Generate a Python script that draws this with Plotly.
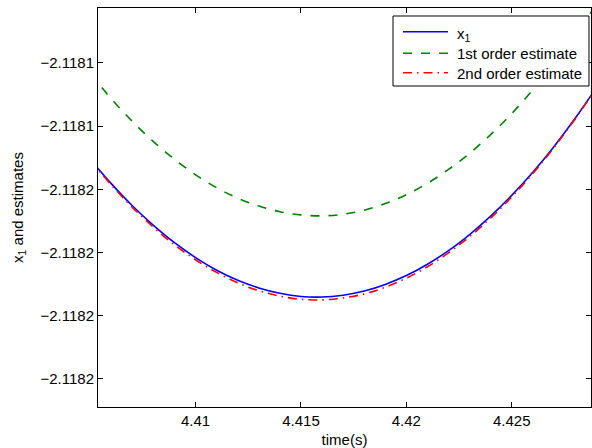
import plotly.graph_objects as go

# time samples (s)
time_s = [4.405, 4.406, 4.407, 4.408, 4.409, 4.410, 4.411, 4.412, 4.413, 4.414,
          4.415, 4.416, 4.417, 4.418, 4.419, 4.420, 4.421, 4.422, 4.423, 4.424,
          4.425, 4.426, 4.427, 4.428, 4.429]

x1 = [-2.1181505, -2.1181582, -2.1181652, -2.1181714, -2.1181769, -2.1181816,
      -2.1181856, -2.1181888, -2.1181912, -2.1181929, -2.1181939, -2.1181941,
      -2.1181935, -2.1181922, -2.1181901, -2.1181873, -2.1181837, -2.1181794,
      -2.1181743, -2.1181685, -2.1181619, -2.1181546, -2.1181465, -2.1181376,
      -2.1181280]

est_1st = [-2.1181234, -2.1181313, -2.1181385, -2.1181449, -2.1181505, -2.1181554,
           -2.1181595, -2.1181628, -2.1181653, -2.1181671, -2.1181681, -2.1181684,
           -2.1181679, -2.1181666, -2.1181645, -2.1181617, -2.1181581, -2.1181537,
           -2.1181486, -2.1181427, -2.1181360, -2.1181285, -2.1181203, -2.1181113,
           -2.1181016]

est_2nd = [-2.1181508, -2.1181586, -2.1181657, -2.1181720, -2.1181776, -2.1181823,
           -2.1181863, -2.1181896, -2.1181921, -2.1181938, -2.1181948, -2.1181950,
           -2.1181944, -2.1181931, -2.1181910, -2.1181881, -2.1181845, -2.1181801,
           -2.1181750, -2.1181691, -2.1181624, -2.1181550, -2.1181468, -2.1181378,
           -2.1181281]

series_names = ["x<sub>1</sub>", "1st order estimate", "2nd order estimate"]

x_tick_vals = [4.41, 4.415, 4.42, 4.425]
x_tick_text = ["4.41", "4.415", "4.42", "4.425"]
y_tick_vals = [-2.11812, -2.11814, -2.11816, -2.11818, -2.11820, -2.11822]
y_tick_text = ["\u22122.1181", "\u22122.1181", "\u22122.1182", "\u22122.1182", "\u22122.1182", "\u22122.1182"]

FONT = "Liberation Sans, Arial, Helvetica, sans-serif"
FS = 15
colors = ["#0000FF", "#008000", "#FF0000"]
dashes = ["solid", "9px,9px", "9px,5px,1.5px,5px"]
LW = 1.6

fig = go.Figure()
for ys, name, c, d in zip([x1, est_1st, est_2nd], series_names, colors, dashes):
    fig.add_trace(go.Scatter(x=time_s, y=ys, mode="lines", name=name, showlegend=False,
                             line=dict(color=c, width=LW, dash=d, shape="spline")))

axis_common = dict(showline=True, linecolor="black", linewidth=1, mirror="ticks",
                   ticks="inside", ticklen=5, tickwidth=1, tickcolor="black",
                   showgrid=False, zeroline=False,
                   tickfont=dict(family=FONT, size=FS, color="black"))

fig.update_xaxes(range=[4.40537, 4.42876], tickvals=x_tick_vals, ticktext=x_tick_text,
                 title=dict(text="time(s)", font=dict(family=FONT, size=FS, color="black"), standoff=6),
                 **axis_common)
fig.update_yaxes(range=[-2.1182289, -2.1181026], tickvals=y_tick_vals, ticktext=y_tick_text,
                 title=dict(text="x<sub>1</sub> and estimates", font=dict(family=FONT, size=FS, color="black"), standoff=13),
                 **axis_common)

# legend box drawn in paper coordinates (MATLAB-style legend)
shapes = [dict(type="rect", xref="paper", yref="paper", x0=0.5984, x1=0.9959, y0=0.8045, y1=0.97995,
               line=dict(color="black", width=1), fillcolor="white", layer="above")]
annotations = []
row_line_y = [0.9406, 0.8865, 0.8378]
row_text_y = [0.9330, 0.8853, 0.8366]
for name, c, d, ly, ty in zip(series_names, colors, dashes, row_line_y, row_text_y):
    shapes.append(dict(type="line", xref="paper", yref="paper", x0=0.6187, x1=0.7099, y0=ly, y1=ly,
                       line=dict(color=c, width=LW, dash=d), layer="above"))
    annotations.append(dict(xref="paper", yref="paper", x=0.7241, y=ty, text=name, showarrow=False,
                            xanchor="left", yanchor="middle",
                            font=dict(family=FONT, size=FS, color="black")))

fig.update_layout(
    width=592, height=448,
    margin=dict(l=98, r=1, t=8, b=41),
    paper_bgcolor="white", plot_bgcolor="white",
    font=dict(family=FONT, size=FS, color="black"),
    showlegend=False,
    shapes=shapes,
    annotations=annotations,
)

fig.write_html("out.html", config={"displayModeBar": False},
               post_script="document.body.style.margin='0';")
